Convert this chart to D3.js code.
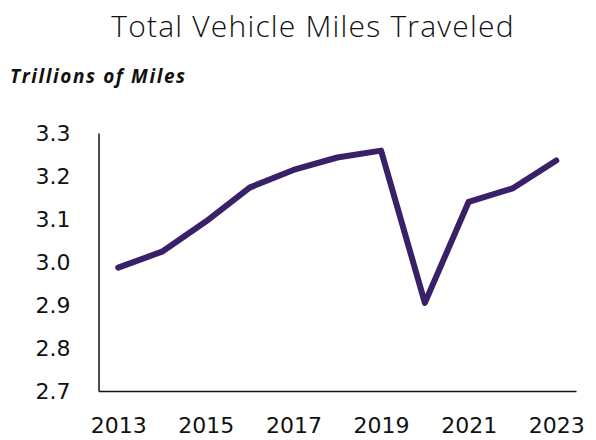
<!DOCTYPE html>
<html>
<head>
<meta charset="utf-8">
<script src="https://cdn.jsdelivr.net/npm/d3@7"></script>
<style>
  body { margin: 0; background: #fff; }
  text { font-family: "DejaVu Sans", sans-serif; fill: #111; }
</style>
</head>
<body>
<div id="chart"></div>
<script>
var width = 596;
var height = 440;

var years = [2013, 2014, 2015, 2016, 2017, 2018, 2019, 2020, 2021, 2022, 2023];
var miles = [2.987, 3.024, 3.094, 3.173, 3.214, 3.243, 3.259, 2.905, 3.140, 3.171, 3.236];
var yTicks = [2.7, 2.8, 2.9, 3.0, 3.1, 3.2, 3.3];
var xTickYears = [2013, 2015, 2017, 2019, 2021, 2023];

var data = years.map((y, i) => ({year: y, value: miles[i]}));

var svg = d3.select("#chart")
    .append("svg")
    .attr("width", width)
    .attr("height", height);

var plotLeft = 98.5, plotRight = 576, plotTop = 133, plotBottom = 391;

var x = d3.scalePoint()
    .domain(years)
    .range([plotLeft, plotRight])
    .padding(0.45);

var y = d3.scaleLinear()
    .domain([2.7, 3.3])
    .range([plotBottom, plotTop]);

// title + unit label
svg.append("text")
    .attr("x", 313)
    .attr("y", 37)
    .attr("text-anchor", "middle")
    .style("font-family", "'Open Sans', sans-serif")
    .style("font-size", "30px")
    .style("font-weight", 300)
    .style("letter-spacing", "1.2px")
    .text("Total Vehicle Miles Traveled");

svg.append("text")
    .attr("x", 10)
    .attr("y", 83)
    .style("font-family", "'Open Sans', sans-serif")
    .style("font-size", "19px")
    .style("font-weight", 700)
    .style("font-style", "italic")
    .style("letter-spacing", "1.6px")
    .text("Trillions of Miles");

// axes
var yAxis = svg.append("g")
    .attr("transform", `translate(${plotLeft},0)`)
    .call(d3.axisLeft(y).tickValues(yTicks).tickFormat(d3.format(".1f")).tickSize(0).tickPadding(28));
yAxis.select(".domain").attr("stroke", "#111").attr("stroke-width", 1.5);
yAxis.selectAll("text").style("font-size", "22px").attr("fill", "#111");

var xAxis = svg.append("g")
    .attr("transform", `translate(0,${plotBottom})`)
    .call(d3.axisBottom(x).tickValues(xTickYears).tickFormat(d3.format("d")).tickSize(0).tickPadding(26));
xAxis.select(".domain").attr("stroke", "#111").attr("stroke-width", 1.5);
xAxis.selectAll("text").style("font-size", "22px").attr("fill", "#111");

// line
var line = d3.line()
    .x(d => x(d.year))
    .y(d => y(d.value));

svg.append("path")
    .datum(data)
    .attr("d", line)
    .attr("fill", "none")
    .attr("stroke", "#3a2066")
    .attr("stroke-width", 6)
    .attr("stroke-linejoin", "round")
    .attr("stroke-linecap", "round");
</script>
</body>
</html>
